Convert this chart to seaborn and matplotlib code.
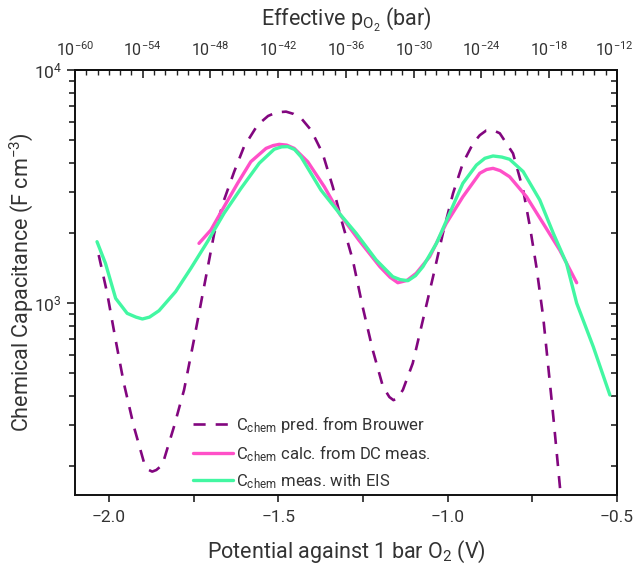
import numpy as np
import pandas as pd
import matplotlib
matplotlib.use("Agg")
import matplotlib.pyplot as plt
import matplotlib.ticker as mticker
import matplotlib.transforms as mtransforms
import seaborn as sns

# ---- data ----
brouwer_v = [-2.030, -2.005, -1.980, -1.956, -1.926, -1.896, -1.882, -1.872, -1.860, -1.842,
             -1.808, -1.778, -1.749, -1.719, -1.689, -1.660, -1.630, -1.601, -1.561, -1.530,
             -1.505, -1.477, -1.455, -1.430, -1.403, -1.369, -1.339, -1.312, -1.280, -1.251,
             -1.221, -1.191, -1.172, -1.160, -1.148, -1.132, -1.103, -1.073, -1.043, -1.014,
             -0.984, -0.955, -0.925, -0.905, -0.886, -0.866, -0.846, -0.807, -0.777, -0.757,
             -0.738, -0.718, -0.703, -0.688, -0.674, -0.660]
brouwer_c = [1607, 1101, 693, 454, 294, 206, 192, 189, 192, 202,
             294, 424, 693, 1175, 1991, 2768, 3664, 4690, 5808, 6350,
             6580, 6627, 6480, 6150, 5519, 4387, 3155, 2230, 1531, 965,
             628, 438, 395, 383, 390, 424, 551, 845, 1297, 1991,
             2956, 3982, 4839, 5250, 5500, 5520, 5350, 4387, 3055, 2125,
             1432, 874, 534, 325, 198, 120]

dc_v = [-1.734, -1.699, -1.660, -1.620, -1.581, -1.536, -1.515, -1.497, -1.475, -1.453,
        -1.413, -1.364, -1.317, -1.262, -1.200, -1.170, -1.147, -1.120, -1.093, -1.053,
        -1.004, -0.955, -0.905, -0.885, -0.866, -0.845, -0.817, -0.767, -0.718, -0.669,
        -0.619]
dc_c = [1803, 2056, 2588, 3264, 4040, 4610, 4740, 4797, 4760, 4610,
        4040, 3155, 2390, 1862, 1432, 1290, 1222, 1250, 1340, 1580,
        2197, 2857, 3606, 3740, 3784, 3700, 3483, 2857, 2197, 1687,
        1222]

eis_v = [-2.035, -2.010, -1.980, -1.946, -1.920, -1.901, -1.880, -1.852, -1.803, -1.758,
         -1.709, -1.660, -1.610, -1.556, -1.512, -1.490, -1.472, -1.452, -1.433, -1.374,
         -1.318, -1.270, -1.211, -1.162, -1.140, -1.117, -1.095, -1.073, -1.033, -0.994,
         -0.955, -0.915, -0.890, -0.866, -0.840, -0.817, -0.777, -0.728, -0.688, -0.649,
         -0.619, -0.570, -0.521]
eis_c = [1833, 1479, 1047, 903, 870, 854, 870, 927, 1119, 1409,
         1833, 2427, 3105, 3982, 4570, 4680, 4690, 4560, 4246, 3055,
         2410, 1991, 1531, 1297, 1260, 1247, 1310, 1432, 1803, 2427,
         3264, 3908, 4180, 4276, 4230, 4139, 3664, 2768, 1991, 1479,
         998, 649, 403]

labels = [r"C$_{\mathrm{chem}}$ pred. from Brouwer",
          r"C$_{\mathrm{chem}}$ calc. from DC meas.",
          r"C$_{\mathrm{chem}}$ meas. with EIS"]
top_ticks = [-60, -54, -48, -42, -36, -30, -24, -18, -12]
x_ticks = [-2.0, -1.5, -1.0, -0.5]

# ---- style ----
sns.set_style("ticks")
plt.rcParams["font.family"] = ["Roboto", "DejaVu Sans"]
plt.rcParams["mathtext.fontset"] = "custom"
plt.rcParams["mathtext.rm"] = "Roboto"
plt.rcParams["mathtext.it"] = "Roboto:italic"
plt.rcParams["mathtext.bf"] = "Roboto:bold"
txt = "#333333"
plt.rcParams["text.color"] = txt
plt.rcParams["axes.labelcolor"] = txt
plt.rcParams["xtick.color"] = "#222222"
plt.rcParams["ytick.color"] = "#222222"
plt.rcParams["xtick.labelcolor"] = txt
plt.rcParams["ytick.labelcolor"] = txt

fig = plt.figure(figsize=(6.34, 5.66), dpi=100)
ax = fig.add_axes([75 / 634, 1 - 495 / 566, 542 / 634, 425 / 566])

df_b = pd.DataFrame({"V": brouwer_v, "C": brouwer_c})
df_d = pd.DataFrame({"V": dc_v, "C": dc_c})
df_e = pd.DataFrame({"V": eis_v, "C": eis_c})

lw = 2.4
sns.lineplot(data=df_b, x="V", y="C", ax=ax, color="#82067f", lw=1.9,
             label=labels[0], sort=False)
ax.lines[-1].set_dashes([4.6, 3.8])
sns.lineplot(data=df_d, x="V", y="C", ax=ax, color="#ff50c8", lw=lw,
             label=labels[1], sort=False)
sns.lineplot(data=df_e, x="V", y="C", ax=ax, color="#42f7a2", lw=lw,
             label=labels[2], sort=False)
for ln in ax.lines:
    ln.set_solid_joinstyle("round")
    ln.set_dash_capstyle("butt")

ax.set_yscale("log")
ax.set_xlim(-2.1, -0.5)
ax.set_ylim(150, 10000)

ax.set_xticks(x_ticks)
ax.set_xticklabels([f"{t:.1f}".replace("-", "\u2212") for t in x_ticks])
ax.xaxis.set_minor_locator(mticker.FixedLocator([-1.75, -1.25, -0.75]))
ax.tick_params(axis="x", which="both", direction="out", length=5, width=1.2,
               labelsize=12.5, pad=6)
ax.tick_params(axis="y", which="major", direction="out", length=6, width=1.2,
               labelsize=12.5, left=True, right=False)
ax.tick_params(axis="y", which="minor", direction="out", length=4, width=1.2,
               left=True, right=False)
ax.yaxis.set_major_locator(mticker.FixedLocator([1000, 10000]))
ax.yaxis.set_major_formatter(mticker.FixedFormatter([r"$10^{3}$", r"$10^{4}$"]))
ax.yaxis.set_minor_locator(mticker.LogLocator(base=10, subs=np.arange(2, 10)))
ax.yaxis.set_minor_formatter(mticker.NullFormatter())
for s in ax.spines.values():
    s.set_linewidth(1.4)
    s.set_color("#111111")

# right spine ticks inward
ax2 = ax.secondary_yaxis("right")
ax2.set_yscale("log")
ax2.yaxis.set_major_locator(mticker.FixedLocator([1000, 10000]))
ax2.yaxis.set_minor_locator(mticker.LogLocator(base=10, subs=np.arange(2, 10)))
ax2.yaxis.set_major_formatter(mticker.NullFormatter())
ax2.yaxis.set_minor_formatter(mticker.NullFormatter())
ax2.tick_params(which="major", direction="in", length=6, width=1.2)
ax2.tick_params(which="minor", direction="in", length=4, width=1.2)
ax2.spines["right"].set_linewidth(1.4)

# top axis: effective pO2
def v2p(v):
    return -60 + 30 * (np.asarray(v) + 2.1)

def p2v(p):
    return -2.1 + (np.asarray(p) + 60) / 30

top = ax.secondary_xaxis("top", functions=(v2p, p2v))
top.set_xticks(top_ticks)
top.set_xticklabels([rf"$10^{{{t}}}$" for t in top_ticks])
top.xaxis.set_minor_locator(mticker.MultipleLocator(1))
top.tick_params(which="major", direction="in", length=6, width=1.2, labelsize=11.5, pad=8)
top.tick_params(which="minor", direction="in", length=3.5, width=1.0)
top.spines["top"].set_linewidth(1.4)
top.set_xlabel(r"Effective p$_{\mathrm{O_2}}$ (bar)", fontsize=15.5, labelpad=10)

ax.set_xlabel(r"Potential against 1 bar O$_2$ (V)", fontsize=15.5, labelpad=10)
ax.set_ylabel(r"Chemical Capacitance (F cm$^{-3}$)", fontsize=15.5, labelpad=-1)

leg = ax.legend(loc="lower left", bbox_to_anchor=(0.19, -0.025), frameon=False,
                fontsize=12, handlelength=2.4, handletextpad=0.2, labelspacing=0.5)

# nudge the last top label so it stays inside the canvas
fig.canvas.draw()
last = top.xaxis.get_majorticklabels()[-1]
last.set_horizontalalignment("right")
last.set_transform(last.get_transform() +
                   mtransforms.ScaledTranslation(17 / 100, 0, fig.dpi_scale_trans))

fig.savefig("out.png", dpi=100)
